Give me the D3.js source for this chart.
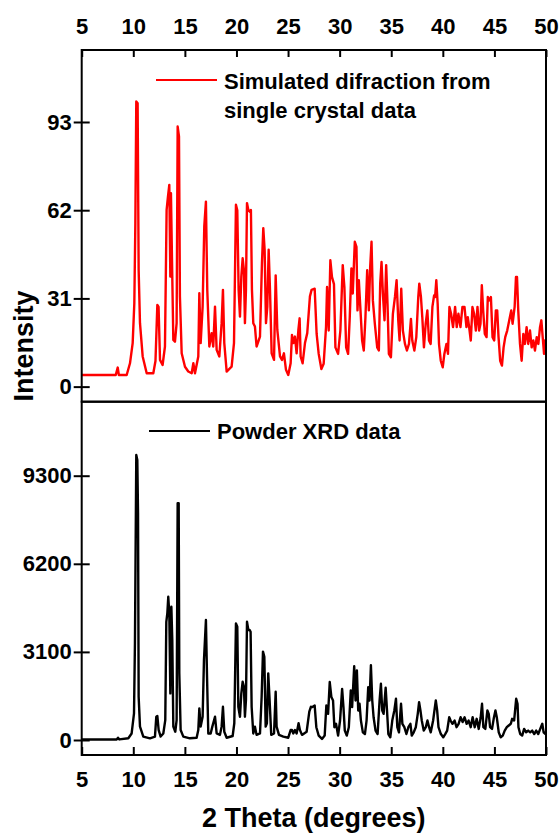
<!DOCTYPE html>
<html>
<head>
  <meta charset="utf-8">
  <script src="https://d3js.org/d3.v7.min.js"></script>
  <style>
    body { margin:0; background:#fff; }
    svg text { font-family: "Liberation Sans", Arial, sans-serif; font-weight: bold; fill:#000; }
  </style>
</head>
<body>
<script>
// tick values
var thetaTicks = [5, 10, 15, 20, 25, 30, 35, 40, 45, 50];
var simTicks = [0, 31, 62, 93];
var powderTicks = [0, 3100, 6200, 9300];
var simLegend = ["Simulated difraction from", "single crystal data"];
var powderLegend = "Powder XRD data";

// simulated pattern [2theta, intensity]
var simulated = [
  [5, 4.1], [8.3, 4.1], [8.49, 6.7], [8.6, 4.1], [9.36, 4.1], [9.68, 8.2], [9.94, 15.3], [10.1, 29.3],
  [10.2, 57.4], [10.29, 100.2], [10.42, 99.6], [10.52, 41], [10.65, 22.3], [10.91, 10.6], [11.3, 4.7],
  [11.94, 4.7], [12.15, 9], [12.33, 28.7], [12.45, 28], [12.59, 9.4], [12.84, 7.6], [13.07, 14.1],
  [13.23, 62.1], [13.36, 66.8], [13.49, 70.9], [13.59, 38.7], [13.65, 68], [13.75, 45], [13.88, 16.4],
  [14.04, 15.8], [14.2, 22.3], [14.3, 91.4], [14.43, 87.9], [14.52, 31.7], [14.69, 11.7], [15.01, 7],
  [15.33, 5.3], [15.66, 4.7], [15.82, 8.2], [15.98, 4.7], [16.3, 10.6], [16.4, 32.8], [16.53, 15.3],
  [16.72, 28.1], [16.88, 56.3], [17.04, 65], [17.17, 34], [17.37, 14.1], [17.59, 18.8], [17.75, 14.1],
  [17.92, 28.1], [18.08, 12.9], [18.34, 10.6], [18.56, 22.3], [18.69, 34], [18.82, 15.3], [19.05, 5.3],
  [19.53, 7], [19.76, 15.3], [19.95, 63.9], [20.08, 62], [20.21, 34], [20.34, 24.6], [20.47, 38.7],
  [20.6, 45.1], [20.72, 41], [20.82, 22.3], [20.92, 34], [21.02, 64.5], [21.15, 62.1], [21.28, 61.5],
  [21.4, 62.1], [21.5, 34], [21.63, 22.3], [21.79, 21.1], [21.95, 14.1], [22.28, 17.6], [22.47, 43.4],
  [22.6, 55.7], [22.73, 48.1], [22.86, 22.3], [22.99, 28.1], [23.12, 48.1], [23.25, 34], [23.41, 11.7],
  [23.64, 9.4], [23.8, 39.1], [23.96, 19.9], [24.22, 10.6], [24.41, 9.4], [24.6, 11.7], [24.8, 5.9],
  [25.02, 4.1], [25.25, 8.2], [25.38, 18.2], [25.51, 15.3], [25.67, 17.6], [25.83, 11.7], [26.0, 19.9],
  [26.12, 24], [26.22, 10.6], [26.41, 8.2], [26.64, 15.3], [26.86, 18.8], [27.12, 31.7], [27.28, 34],
  [27.58, 34.4], [27.77, 18.5], [27.97, 11.5], [28.23, 6.2], [28.45, 8], [28.68, 20.9], [28.78, 35],
  [28.94, 19.7], [29.1, 44.4], [29.26, 38.5], [29.45, 36], [29.59, 13.8], [29.85, 11.5], [30.07, 19.7],
  [30.3, 42.7], [30.46, 35], [30.63, 13.8], [30.82, 11.5], [30.98, 24.4], [31.14, 41.5], [31.27, 32.7],
  [31.47, 50.9], [31.63, 49.1], [31.73, 26.8], [31.86, 37.4], [32.02, 26.8], [32.18, 16.2], [32.34, 12.7],
  [32.5, 24.4], [32.67, 40.9], [32.83, 26.8], [32.96, 42.1], [33.09, 50.9], [33.22, 30.3], [33.41, 22.1],
  [33.64, 13.8], [33.8, 12.7], [33.93, 36.2], [34.06, 43.8], [34.19, 32.7], [34.35, 23.3], [34.51, 42.7],
  [34.64, 29.1], [34.77, 11.5], [34.97, 10.3], [35.16, 25.6], [35.36, 31.5], [35.52, 37.4], [35.68, 23.3],
  [35.81, 16.2], [35.97, 34.4], [36.13, 19.7], [36.33, 15], [36.52, 12.7], [36.72, 15], [36.91, 23.8],
  [37.04, 16.2], [37.24, 12.7], [37.43, 17.4], [37.62, 31.5], [37.72, 36.2], [37.88, 31.5], [38.01, 24.4],
  [38.17, 13.8], [38.34, 22.1], [38.5, 26.8], [38.66, 16.2], [38.82, 15], [38.99, 28], [39.15, 32],
  [39.25, 31.5], [39.37, 37.4], [39.5, 29.1], [39.63, 15], [39.8, 9.1], [39.99, 6.8], [40.15, 11.5],
  [40.35, 15], [40.5, 11.5], [40.64, 28], [40.8, 25.6], [40.99, 20.9], [41.19, 28], [41.35, 20.9],
  [41.51, 25.6], [41.71, 20.9], [41.9, 28], [42.1, 28], [42.29, 20.9], [42.42, 24.4], [42.55, 20.9],
  [42.71, 16.2], [42.87, 28], [43.03, 25.6], [43.2, 19.7], [43.36, 28], [43.52, 19.7], [43.65, 22.1],
  [43.78, 35.6], [43.91, 26.8], [44.07, 18.5], [44.24, 17.4], [44.36, 31.5], [44.5, 30.3], [44.66, 31.5],
  [44.82, 17.4], [44.98, 16.2], [45.14, 26.8], [45.27, 26.8], [45.4, 17.4], [45.56, 9.1], [45.73, 7.4],
  [45.89, 13.8], [46.05, 17.4], [46.24, 19.7], [46.44, 23.3], [46.63, 26.8], [46.76, 22.1], [46.96, 28],
  [47.09, 38.5], [47.19, 38.5], [47.31, 26.8], [47.48, 15], [47.64, 9.1], [47.8, 18.5], [47.96, 15],
  [48.12, 20.9], [48.28, 15], [48.45, 19.7], [48.61, 13.8], [48.77, 16.2], [48.93, 12.7], [49.1, 17.4],
  [49.26, 15], [49.42, 20.9], [49.55, 23.3], [49.68, 17.4], [49.81, 11.5], [49.9, 16.2], [50, 14]
];

// measured powder pattern [2theta, counts]
var powder = [
  [5, 20], [8.39, 20], [8.52, 80], [8.65, 20], [9.52, 60], [9.84, 230], [10.07, 940], [10.16, 3400],
  [10.29, 10028], [10.39, 9850], [10.46, 7980], [10.52, 1520], [10.65, 470], [10.97, 120], [11.62, 60],
  [12.1, 120], [12.23, 820], [12.33, 845], [12.46, 350], [12.65, 120], [12.91, 230], [13.1, 700],
  [13.2, 4160], [13.3, 4460], [13.39, 5040], [13.49, 4460], [13.59, 1640], [13.69, 4690], [13.78, 3520],
  [13.88, 470], [14.07, 290], [14.2, 700], [14.3, 8330], [14.4, 8330], [14.46, 2345], [14.59, 350],
  [14.85, 120], [15.49, 60], [16.14, 80], [16.3, 350], [16.4, 1110], [16.53, 470], [16.72, 820],
  [16.85, 2810], [17.04, 4220], [17.14, 2345], [17.27, 230], [17.5, 230], [17.66, 470], [17.92, 820],
  [18.08, 230], [18.4, 180], [18.56, 470], [18.69, 1170], [18.82, 290], [19.05, 80], [19.63, 140],
  [19.79, 590], [19.95, 4100], [20.08, 3990], [20.18, 1170], [20.34, 820], [20.47, 1640], [20.6, 2050],
  [20.72, 1880], [20.82, 820], [20.92, 1410], [21.02, 4160], [21.15, 3870], [21.28, 3870], [21.37, 3810],
  [21.47, 1170], [21.63, 230], [21.79, 470], [21.95, 180], [22.28, 230], [22.44, 1520], [22.57, 3110],
  [22.7, 2930], [22.83, 470], [22.95, 590], [23.08, 2345], [23.21, 1410], [23.37, 180], [23.64, 230],
  [23.8, 1700], [23.89, 470], [24.12, 180], [24.54, 120], [25.02, 80], [25.25, 350], [25.38, 350],
  [25.51, 230], [25.67, 350], [25.83, 230], [26.02, 590], [26.15, 350], [26.35, 180], [26.8, 290],
  [27.06, 1000], [27.22, 1170], [27.32, 1156], [27.58, 1215], [27.74, 450], [27.97, 155], [28.29, 37],
  [28.55, 155], [28.71, 1215], [28.88, 920], [29.04, 2040], [29.2, 1510], [29.36, 1390], [29.49, 450],
  [29.65, 570], [29.85, 155], [30.04, 685], [30.24, 1800], [30.37, 1156], [30.5, 330], [30.69, 155],
  [30.89, 450], [31.08, 1745], [31.21, 1156], [31.41, 2594], [31.54, 1390], [31.67, 2450], [31.8, 1040],
  [31.93, 1275], [32.06, 685], [32.25, 270], [32.45, 210], [32.61, 685], [32.77, 1860], [32.9, 1390],
  [33.03, 2630], [33.16, 1390], [33.29, 800], [33.48, 330], [33.68, 210], [33.87, 1390], [34.0, 1980],
  [34.13, 1040], [34.26, 920], [34.46, 1840], [34.59, 1040], [34.72, 210], [34.91, 96], [35.1, 685],
  [35.3, 1040], [35.46, 1450], [35.59, 450], [35.75, 270], [35.95, 1275], [36.08, 570], [36.27, 450],
  [36.47, 210], [36.66, 450], [36.86, 570], [36.99, 155], [37.18, 270], [37.38, 450], [37.57, 920],
  [37.7, 1330], [37.83, 1040], [37.96, 685], [38.15, 330], [38.35, 450], [38.51, 685], [38.67, 450],
  [38.83, 270], [39.06, 685], [39.19, 1040], [39.32, 1390], [39.45, 1040], [39.58, 450], [39.81, 210],
  [40.04, 96], [40.23, 210], [40.42, 330], [40.62, 800], [40.75, 685], [40.94, 570], [41.14, 685],
  [41.33, 450], [41.53, 570], [41.72, 800], [41.92, 630], [42.11, 800], [42.31, 570], [42.5, 685],
  [42.7, 450], [42.89, 800], [43.09, 450], [43.28, 745], [43.48, 390], [43.67, 800], [43.8, 1275],
  [43.93, 450], [44.12, 390], [44.32, 1040], [44.45, 920], [44.58, 450], [44.77, 390], [44.93, 745],
  [45.1, 1040], [45.23, 800], [45.42, 270], [45.61, 96], [45.81, 155], [46.0, 330], [46.2, 450],
  [46.39, 510], [46.59, 570], [46.72, 745], [46.91, 685], [47.11, 1450], [47.24, 1275], [47.33, 450],
  [47.5, 210], [47.69, 155], [47.88, 390], [48.08, 270], [48.27, 330], [48.47, 270], [48.66, 330],
  [48.86, 210], [49.05, 330], [49.25, 210], [49.44, 390], [49.64, 570], [49.77, 270], [49.93, 210], [50, 300]
];

// layout
var plotLeft = 81.7, plotRight = 546, plotTop = 50, plotMid = 401.7, plotBottom = 755;

var svg = d3.select("body").append("svg")
  .attr("width", 560)
  .attr("height", 834);

var x = d3.scaleLinear().domain([5, 50]).range([plotLeft, plotRight]);
var yTop = d3.scaleLinear().domain([-5.3, 118.3]).range([plotMid, plotTop]);
var yBot = d3.scaleLinear().domain([-528, 11904]).range([plotBottom, plotMid]);

svg.append("clipPath").attr("id", "clipTop").append("rect")
  .attr("x", plotLeft).attr("y", plotTop).attr("width", plotRight - plotLeft).attr("height", plotMid - plotTop);
svg.append("clipPath").attr("id", "clipBot").append("rect")
  .attr("x", plotLeft).attr("y", plotMid).attr("width", plotRight - plotLeft).attr("height", plotBottom - plotMid);

// curves
var lineTop = d3.line().x(function(d) { return x(d[0]); }).y(function(d) { return yTop(d[1]); });
var lineBot = d3.line().x(function(d) { return x(d[0]); }).y(function(d) { return yBot(d[1]); });

svg.append("path").datum(simulated)
  .attr("clip-path", "url(#clipTop)")
  .attr("d", lineTop)
  .attr("fill", "none").attr("stroke", "#ff0000").attr("stroke-width", 2.4).attr("stroke-linejoin", "round");

svg.append("path").datum(powder)
  .attr("clip-path", "url(#clipBot)")
  .attr("d", lineBot)
  .attr("fill", "none").attr("stroke", "#000").attr("stroke-width", 2.4).attr("stroke-linejoin", "round");

// axes
function styleAxis(g) {
  g.select(".domain").remove();
  g.selectAll(".tick line").attr("stroke", "#000").attr("stroke-width", 2);
  g.selectAll(".tick text").attr("font-size", 22).attr("font-family", "Liberation Sans, Arial, sans-serif")
    .attr("font-weight", "bold");
}

var fmt = d3.format("d");

svg.append("g").attr("transform", "translate(0," + plotTop + ")")
  .call(d3.axisTop(x).tickValues(thetaTicks).tickFormat(fmt).tickSize(-7).tickPadding(16))
  .call(styleAxis);

svg.append("g").attr("transform", "translate(0," + plotBottom + ")")
  .call(d3.axisBottom(x).tickValues(thetaTicks).tickFormat(fmt).tickSize(-8).tickPadding(16))
  .call(styleAxis);

svg.append("g").attr("transform", "translate(" + plotLeft + ",0)")
  .call(d3.axisLeft(yTop).tickValues(simTicks).tickFormat(fmt).tickSize(8).tickPadding(2))
  .call(styleAxis)
  .selectAll(".tick line").attr("x1", 8);

svg.append("g").attr("transform", "translate(" + plotLeft + ",0)")
  .call(d3.axisLeft(yBot).tickValues(powderTicks).tickFormat(fmt).tickSize(8).tickPadding(2))
  .call(styleAxis)
  .selectAll(".tick line").attr("x1", 8);

// frames
svg.append("rect").attr("x", plotLeft).attr("y", plotTop).attr("width", plotRight - plotLeft).attr("height", plotMid - plotTop)
  .attr("fill", "none").attr("stroke", "#000").attr("stroke-width", 2);
svg.append("rect").attr("x", plotLeft).attr("y", plotMid).attr("width", plotRight - plotLeft).attr("height", plotBottom - plotMid)
  .attr("fill", "none").attr("stroke", "#000").attr("stroke-width", 2);

// titles
svg.append("text").text("2 Theta (degrees)")
  .attr("x", (plotLeft + plotRight) / 2).attr("y", 827)
  .attr("text-anchor", "middle").attr("font-size", 27);

svg.append("text").text("Intensity")
  .attr("transform", "translate(33,346) rotate(-90)")
  .attr("text-anchor", "middle").attr("font-size", 27);

// legends
svg.append("line").attr("x1", 156).attr("x2", 217).attr("y1", 80).attr("y2", 80)
  .attr("stroke", "#ff0000").attr("stroke-width", 2);
svg.append("text").text(simLegend[0]).attr("x", 224).attr("y", 89).attr("font-size", 22);
svg.append("text").text(simLegend[1]).attr("x", 224).attr("y", 118).attr("font-size", 22);

svg.append("line").attr("x1", 149).attr("x2", 210).attr("y1", 431).attr("y2", 431)
  .attr("stroke", "#000").attr("stroke-width", 2);
svg.append("text").text(powderLegend).attr("x", 217).attr("y", 439).attr("font-size", 22);
</script>
</body>
</html>
